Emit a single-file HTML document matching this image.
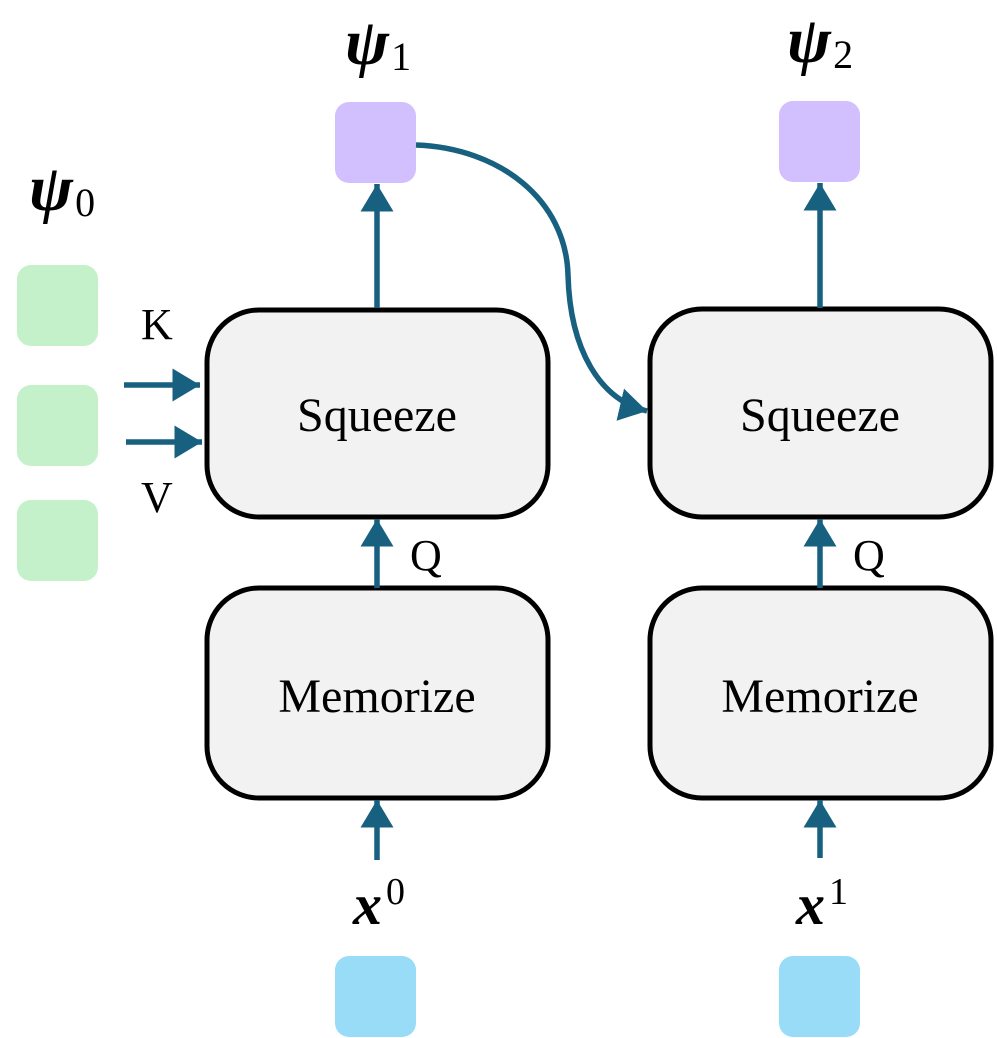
<!DOCTYPE html>
<html><head><meta charset="utf-8"><style>html,body{margin:0;padding:0;background:#fff}svg{display:block}</style></head>
<body>
<svg width="997" height="1038" viewBox="0 0 997 1038" xmlns="http://www.w3.org/2000/svg">
<defs>
<marker id="ah" markerWidth="6" markerHeight="6" refX="5" refY="3" orient="auto" markerUnits="strokeWidth">
<path d="M0,0 L5,3 L0,6 Z" fill="#17607f"/>
</marker>
</defs>
<g font-family="Liberation Serif, serif" fill="#000">
<rect x="335" y="102" width="81" height="81" rx="14" fill="#d2bffd"/>
<rect x="779" y="101" width="81" height="81" rx="14" fill="#d2bffd"/>
<rect x="17" y="265" width="81" height="81" rx="14" fill="#c4f1c9"/>
<rect x="17" y="385" width="81" height="81" rx="14" fill="#c4f1c9"/>
<rect x="17" y="500" width="81" height="81" rx="14" fill="#c4f1c9"/>
<rect x="335" y="956" width="81" height="81" rx="14" fill="#98dcf8"/>
<rect x="779" y="956" width="81" height="81" rx="14" fill="#98dcf8"/>
<rect x="207" y="310" width="341" height="207" rx="52" fill="#f2f2f2" stroke="#000" stroke-width="5"/>
<rect x="207" y="588" width="341" height="210" rx="52" fill="#f2f2f2" stroke="#000" stroke-width="5"/>
<rect x="650" y="309" width="341" height="208" rx="52" fill="#f2f2f2" stroke="#000" stroke-width="5"/>
<rect x="650" y="588" width="341" height="210" rx="52" fill="#f2f2f2" stroke="#000" stroke-width="5"/>
<text x="377" y="431" font-size="48" text-anchor="middle">Squeeze</text>
<text x="820" y="431" font-size="48" text-anchor="middle">Squeeze</text>
<text x="377" y="712" font-size="48" text-anchor="middle">Memorize</text>
<text x="820" y="712" font-size="48" text-anchor="middle">Memorize</text>
<text x="141" y="339" font-size="44">K</text>
<text x="141" y="512" font-size="44">V</text>
<text x="410" y="570" font-size="44">Q</text>
<text x="853" y="570" font-size="44">Q</text>
<text x="345" y="64" font-size="66" font-weight="bold" font-style="italic">ψ<tspan font-size="40" font-weight="normal" font-style="normal" dx="2" dy="6">1</tspan></text>
<text x="787" y="62" font-size="66" font-weight="bold" font-style="italic">ψ<tspan font-size="40" font-weight="normal" font-style="normal" dx="2" dy="6">2</tspan></text>
<text x="29" y="210" font-size="66" font-weight="bold" font-style="italic">ψ<tspan font-size="40" font-weight="normal" font-style="normal" dx="2" dy="6">0</tspan></text>
<text x="353" y="924" font-size="58" font-weight="bold" font-style="italic">x<tspan font-size="38" font-weight="normal" font-style="normal" dx="4" dy="-20">0</tspan></text>
<text x="796" y="924" font-size="58" font-weight="bold" font-style="italic">x<tspan font-size="38" font-weight="normal" font-style="normal" dx="4" dy="-20">1</tspan></text>
</g>
<g stroke="#17607f" stroke-width="5.5" fill="none" marker-end="url(#ah)">
<line x1="377" y1="308" x2="377" y2="184"/>
<line x1="820" y1="308" x2="820" y2="183"/>
<line x1="377" y1="588" x2="377" y2="519"/>
<line x1="820" y1="588" x2="820" y2="519"/>
<line x1="377" y1="860" x2="377" y2="800"/>
<line x1="820" y1="858" x2="820" y2="800"/>
<line x1="124" y1="385" x2="200" y2="385"/>
<line x1="126" y1="442" x2="202" y2="442"/>
<path d="M416,145 C500,148 566,200 568,275 C570,350 600,400 647,411"/>
</g>
</svg>
</body></html>
